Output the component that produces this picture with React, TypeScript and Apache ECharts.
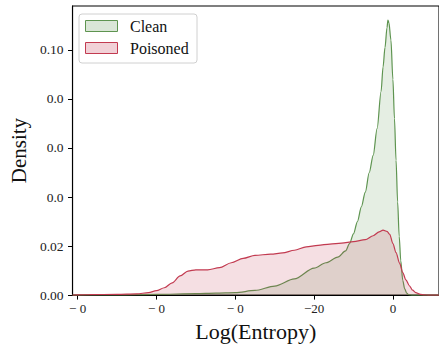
import React, { useEffect, useRef } from "react";
import * as echarts from "echarts";

// Clean KDE
const cleanX = [-81.3, -75, -70, -60, -50, -45, -40, -35, -30, -25, -20, -17, -14, -12, -11, -10, -9, -8, -7, -6, -5, -4, -3, -2.5, -2, -1.5, -1.26, -1, -0.5, 0, 0.4, 0.8, 1.2, 1.6, 2, 2.5, 3, 3.5, 4, 5, 11.7];
const cleanY = [0, 0.0001, 0.0001, 0.0003, 0.0006, 0.0008, 0.001, 0.0019, 0.0037, 0.0066, 0.011, 0.0132, 0.0155, 0.018, 0.021, 0.025, 0.03, 0.036, 0.042, 0.05, 0.057, 0.068, 0.083, 0.093, 0.101, 0.109, 0.1122, 0.111, 0.104, 0.088, 0.072, 0.055, 0.038, 0.024, 0.014, 0.006, 0.0025, 0.0008, 0.0002, 0, 0];

// Poisoned KDE
const poisonX = [-81.3, -77, -70, -65, -62, -60, -58, -56, -54, -52, -50, -47, -44, -41, -38, -35, -31, -28, -25, -22, -19, -16, -13, -10, -7, -5, -3.5, -2.5, -1.5, -0.8, 0, 0.8, 1.7, 2.5, 3.3, 4.2, 5, 5.8, 7, 8, 9, 11.7];
const poisonY = [0, 0.0002, 0.0003, 0.0005, 0.001, 0.0018, 0.003, 0.005, 0.0078, 0.0098, 0.0103, 0.0103, 0.0112, 0.0132, 0.015, 0.0162, 0.0167, 0.0172, 0.0183, 0.0197, 0.0203, 0.0208, 0.0212, 0.0218, 0.0226, 0.0242, 0.0258, 0.0265, 0.026, 0.0248, 0.021, 0.0173, 0.013, 0.0092, 0.0062, 0.0038, 0.002, 0.001, 0.0003, 0.0001, 0, 0];

const xTickValues = [-80, -60, -40, -20, 0];
const xTickLabels = ["\u2212 0", "\u2212 0", "\u2212 0", "\u221220", "0"];
const yTickValues = [0, 0.02, 0.04, 0.06, 0.08, 0.1];
const yTickLabels = ["0.00", "0.02", "0.0", "0.0", "0.0", "0.10"];

const seriesNames = ["Clean", "Poisoned"];

const FONT = "'Liberation Serif', 'DejaVu Serif', serif";
const GREEN = "#5e9450";
const GREEN_FILL = "rgba(94,148,80,0.23)";
const RED = "#c23a50";
const RED_FILL = "rgba(194,58,80,0.23)";

export default function App() {
  const ref = useRef<HTMLDivElement>(null);
  useEffect(() => {
    if (!ref.current) return;
    const chart = echarts.init(ref.current, null, { renderer: "svg" });
    const pairs = (xs: number[], ys: number[]) => xs.map((x, i) => [x, ys[i]]);
    const fmtX = (v: number) => {
      const i = xTickValues.findIndex((t) => Math.abs(t - v) < 1e-6);
      return i >= 0 ? xTickLabels[i] : "";
    };
    const fmtY = (v: number) => {
      const i = yTickValues.findIndex((t) => Math.abs(t - v) < 1e-9);
      return i >= 0 ? yTickLabels[i] : "";
    };
    chart.setOption({
      animation: false,
      backgroundColor: "#fff",
      grid: {
        left: 71.5,
        top: 6,
        width: 370,
        height: 290,
        show: true,
        borderColor: "#000",
        borderWidth: 1.1,
        backgroundColor: "transparent",
      },
      xAxis: {
        type: "value",
        min: -81.3,
        max: 11.7,
        name: "Log(Entropy)",
        nameLocation: "middle",
        nameGap: 24,
        nameTextStyle: { fontFamily: FONT, fontSize: 22, color: "#111" },
        axisLine: { show: true, onZero: false, lineStyle: { color: "#000", width: 1.1 } },
        axisTick: { show: true, length: 4.5, customValues: xTickValues, lineStyle: { color: "#000", width: 1 } },
        axisLabel: { customValues: xTickValues, formatter: fmtX, fontFamily: FONT, fontSize: 13, color: "#222", margin: 7 },
        splitLine: { show: false },
      },
      yAxis: {
        type: "value",
        min: 0,
        max: 0.1179,
        name: "Density",
        nameLocation: "middle",
        nameRotate: 90,
        nameGap: 38,
        nameTextStyle: { fontFamily: FONT, fontSize: 21, color: "#111" },
        axisLine: { show: true, onZero: false, lineStyle: { color: "#000", width: 1.1 } },
        axisTick: { show: true, length: 4.5, customValues: yTickValues, lineStyle: { color: "#000", width: 1 } },
        axisLabel: { customValues: yTickValues, formatter: fmtY, fontFamily: FONT, fontSize: 13.5, color: "#222", margin: 9 },
        splitLine: { show: false },
      },
      series: [
        {
          name: seriesNames[0],
          type: "line",
          data: pairs(cleanX, cleanY),
          smooth: 0.3,
          smoothMonotone: "x",
          showSymbol: false,
          lineStyle: { color: GREEN, width: 1.2 },
          itemStyle: { color: GREEN },
          areaStyle: { color: GREEN_FILL },
          z: 2,
        },
        {
          name: seriesNames[1],
          type: "line",
          data: pairs(poisonX, poisonY),
          smooth: 0.3,
          smoothMonotone: "x",
          showSymbol: false,
          lineStyle: { color: RED, width: 1.2 },
          itemStyle: { color: RED },
          areaStyle: { color: RED_FILL },
          z: 3,
        },
      ],
      graphic: [
        {
          type: "rect",
          shape: { x: 79, y: 14, width: 118, height: 49, r: 3 },
          style: { fill: "rgba(255,255,255,0.8)", stroke: "#d0d0d0", lineWidth: 1 },
          z: 10,
        },
        {
          type: "rect",
          shape: { x: 85.5, y: 20.5, width: 32, height: 11 },
          style: { fill: GREEN_FILL, stroke: GREEN, lineWidth: 1 },
          z: 11,
        },
        {
          type: "rect",
          shape: { x: 85.5, y: 42.5, width: 32, height: 11 },
          style: { fill: RED_FILL, stroke: RED, lineWidth: 1 },
          z: 11,
        },
        {
          type: "text",
          x: 130,
          y: 26.5,
          style: { text: seriesNames[0], font: `16px ${FONT}`, fill: "#111", verticalAlign: "middle" },
          z: 11,
        },
        {
          type: "text",
          x: 130,
          y: 48.5,
          style: { text: seriesNames[1], font: `16px ${FONT}`, fill: "#111", verticalAlign: "middle" },
          z: 11,
        },
      ],
    });
    return () => chart.dispose();
  }, []);
  return <div ref={ref} style={{ width: 439, height: 347, position: "absolute", left: 0, top: 0 }} />;
}
